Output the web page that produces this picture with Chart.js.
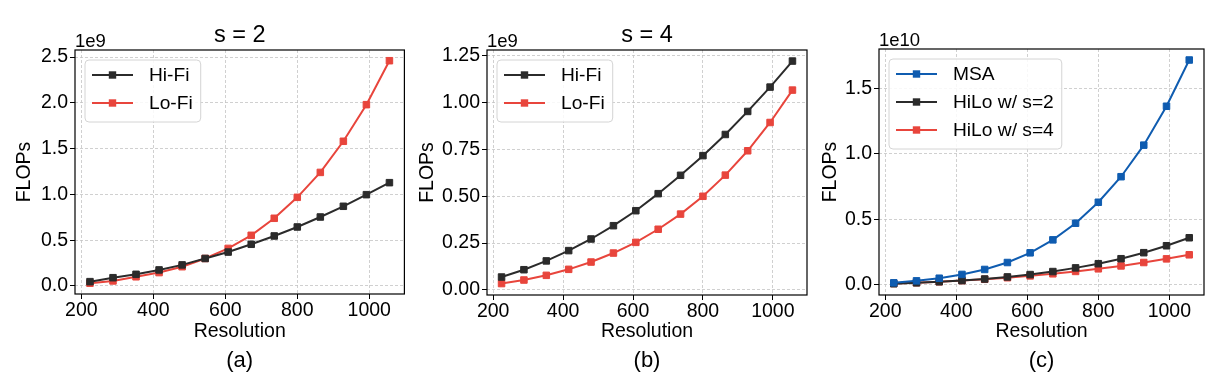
<!DOCTYPE html>
<html>
<head>
<meta charset="utf-8">
<script src="https://cdn.jsdelivr.net/npm/chart.js@4.4.1/dist/chart.umd.min.js"></script>
<style>
  html, body { margin: 0; padding: 0; background: #fff; }
  .panel { position: absolute; top: 0; height: 388px; }
</style>
</head>
<body>
<div class="panel" style="left:0;width:410px"><canvas id="chartA"></canvas></div>
<div class="panel" style="left:410px;width:405px"><canvas id="chartB"></canvas></div>
<div class="panel" style="left:815px;width:404px"><canvas id="chartC"></canvas></div>
<script>
"use strict";

// input resolution (x axis)
const resolution = [224, 288, 352, 416, 480, 544, 608, 672, 736, 800, 864, 928, 992, 1056];

// (a) s = 2, FLOPs in units of 1e9
const s2HiFi = [0.047, 0.09, 0.127, 0.175, 0.23, 0.30, 0.37, 0.455, 0.546, 0.644, 0.753, 0.87, 0.997, 1.128];
const s2LoFi = [0.03, 0.055, 0.10, 0.146, 0.21, 0.30, 0.41, 0.553, 0.739, 0.968, 1.24, 1.58, 1.98, 2.46];

// (b) s = 4, FLOPs in units of 1e9
const s4HiFi = [0.069, 0.108, 0.155, 0.21, 0.272, 0.343, 0.423, 0.514, 0.612, 0.717, 0.83, 0.953, 1.083, 1.222];
const s4LoFi = [0.034, 0.053, 0.078, 0.11, 0.149, 0.197, 0.254, 0.324, 0.405, 0.50, 0.613, 0.743, 0.894, 1.067];

// (c) FLOPs in units of 1e10
const msa = [0.015, 0.03, 0.05, 0.079, 0.117, 0.17, 0.244, 0.343, 0.47, 0.63, 0.825, 1.066, 1.363, 1.716];
const hiloS2 = [0.008, 0.015, 0.023, 0.032, 0.044, 0.06, 0.078, 0.101, 0.129, 0.161, 0.199, 0.245, 0.298, 0.359];
const hiloS4 = [0.010, 0.016, 0.023, 0.032, 0.042, 0.054, 0.068, 0.084, 0.102, 0.122, 0.144, 0.170, 0.198, 0.229];

// tick labels
const xTicks = [200, 400, 600, 800, 1000];
const yTicksA = [0, 0.5, 1.0, 1.5, 2.0, 2.5];
const yTicksB = [0, 0.25, 0.5, 0.75, 1.0, 1.25];
const yTicksC = [0, 0.5, 1.0, 1.5];

const BLACK = "#2b2b2b";
const RED = "#e8453c";
const BLUE = "#0f5cb0";
const FONT = "'Liberation Sans', Arial, sans-serif";

Chart.defaults.font.family = FONT;
Chart.defaults.font.size = 19.5;
Chart.defaults.color = "#000";

function series(label, values, color) {
  return {
    label,
    data: values.map((y, i) => ({ x: resolution[i], y })),
    borderColor: color,
    backgroundColor: color,
    borderWidth: 2,
    pointStyle: "rect",
    pointRadius: 4.6,
    pointBorderWidth: 1,
    tension: 0
  };
}

// frame, panel title, caption, in-axes legend and the offset label ("1e9")
const decorPlugin = {
  id: "decor",
  afterDatasetsDraw(chart, args, opts) {
    const { ctx, chartArea: a } = chart;
    const cx = (a.left + a.right) / 2;
    ctx.save();
    ctx.strokeStyle = "#000";
    ctx.lineWidth = 1.2;
    ctx.strokeRect(a.left, a.top, a.right - a.left, a.bottom - a.top);

    ctx.fillStyle = "#000";
    ctx.textAlign = "center";
    ctx.textBaseline = "middle";
    if (opts.title) {
      ctx.font = `23.5px ${FONT}`;
      ctx.fillText(opts.title, cx, 36);
    }
    ctx.font = `22px ${FONT}`;
    ctx.fillText(opts.caption, cx, 361);

    // offset text
    ctx.font = `18.5px ${FONT}`;
    ctx.textBaseline = "alphabetic";
    ctx.textAlign = "left";
    ctx.fillText(opts.offsetText, a.left, a.top - 3);

    // legend
    ctx.font = `19.2px ${FONT}`;
    const sets = chart.data.datasets;
    const bx = a.left + 10, by = a.top + 10;
    const textW = Math.max(...sets.map((d) => ctx.measureText(d.label).width));
    const bw = 64 + textW + 8, bh = sets.length * 28 + 6;
    ctx.beginPath();
    ctx.roundRect(bx, by, bw, bh, 4);
    ctx.fillStyle = "rgba(255,255,255,0.85)";
    ctx.fill();
    ctx.strokeStyle = "#d4d4d4";
    ctx.lineWidth = 1;
    ctx.stroke();
    sets.forEach((d, i) => {
      const cy = by + 15 + i * 28;
      ctx.strokeStyle = d.borderColor;
      ctx.lineWidth = 2;
      ctx.beginPath();
      ctx.moveTo(bx + 7, cy);
      ctx.lineTo(bx + 48, cy);
      ctx.stroke();
      ctx.fillStyle = d.borderColor;
      ctx.fillRect(bx + 27.5 - 3.7, cy - 3.7, 7.4, 7.4);
      ctx.fillStyle = "#000";
      ctx.textBaseline = "middle";
      ctx.fillText(d.label, bx + 64, cy + 1);
    });
    ctx.restore();
  }
};

function buildOptions(cfg) {
  return {
    responsive: true,
    maintainAspectRatio: false,
    animation: false,
    events: [],
    layout: { padding: { left: 0, right: cfg.padRight, top: cfg.padTop, bottom: 0 } },
    plugins: {
      legend: { display: false },
      tooltip: { enabled: false },
      title: { display: false },
      decor: { title: cfg.title, caption: cfg.caption, offsetText: cfg.offsetText }
    },
    scales: {
      x: {
        type: "linear",
        min: 182.4,
        max: 1097.6,
        afterBuildTicks: (s) => { s.ticks = xTicks.map((v) => ({ value: v })); },
        afterFit: (s) => { s.height = 388 - cfg.bottom; },
        ticks: { padding: 0, maxRotation: 0, autoSkip: false, color: "#000", callback: (v) => String(v) },
        grid: { color: "#c4c4c4", lineWidth: 0.8, tickColor: "#000", tickWidth: 1, tickLength: 5 },
        border: { display: false, dash: [3, 2] },
        title: {
          display: true,
          text: "Resolution",
          color: "#000",
          padding: { top: 0, bottom: 45 }
        }
      },
      y: {
        min: cfg.yMin,
        max: cfg.yMax,
        afterBuildTicks: (s) => { s.ticks = cfg.yTicks.map((v) => ({ value: v })); },
        afterFit: (s) => { s.width = cfg.yWidth; },
        ticks: {
          padding: 2,
          autoSkip: false,
          color: "#000",
          callback: (v) => Number(v).toFixed(cfg.decimals)
        },
        grid: { color: "#c4c4c4", lineWidth: 0.8, tickColor: "#000", tickWidth: 1, tickLength: 5 },
        border: { display: false, dash: [3, 2] },
        title: {
          display: true,
          text: "FLOPs",
          color: "#000",
          padding: { top: cfg.yTitlePad, bottom: 0 }
        }
      }
    }
  };
}

function createChart(canvasId, datasets, cfg) {
  const canvas = document.getElementById(canvasId);
  return new Chart(canvas, {
    type: "line",
    data: { datasets },
    options: buildOptions(cfg),
    plugins: [decorPlugin]
  });
}

createChart("chartA", [series("Hi-Fi", s2HiFi, BLACK), series("Lo-Fi", s2LoFi, RED)], {
  title: "s = 2", caption: "(a)", offsetText: "1e9",
  padTop: 50, padRight: 5, bottom: 294, yWidth: 75, yTitlePad: 13,
  yMin: -0.088, yMax: 2.577, yTicks: yTicksA, decimals: 1
});

createChart("chartB", [series("Hi-Fi", s4HiFi, BLACK), series("Lo-Fi", s4LoFi, RED)], {
  title: "s = 4", caption: "(b)", offsetText: "1e9",
  padTop: 50, padRight: 8, bottom: 295, yWidth: 77, yTitlePad: 6,
  yMin: -0.027, yMax: 1.281, yTicks: yTicksB, decimals: 2
});

createChart("chartC", [series("MSA", msa, BLUE), series("HiLo w/ s=2", hiloS2, BLACK), series("HiLo w/ s=4", hiloS4, RED)], {
  title: "", caption: "(c)", offsetText: "1e10",
  padTop: 49, padRight: 15, bottom: 295, yWidth: 64, yTitlePad: 4,
  yMin: -0.078, yMax: 1.80, yTicks: yTicksC, decimals: 1
});
</script>
</body>
</html>
